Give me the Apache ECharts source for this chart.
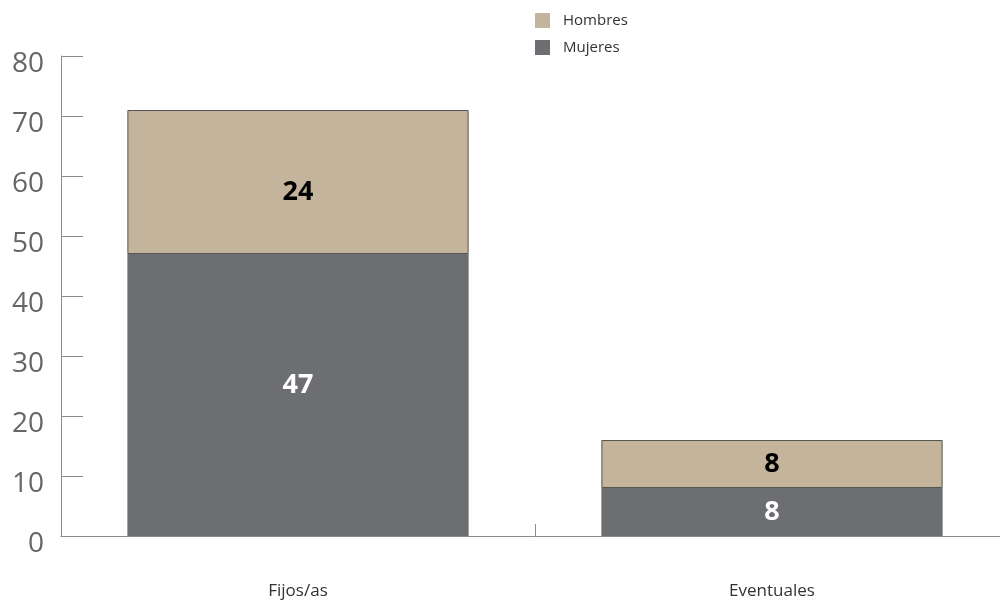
<!DOCTYPE html>
<html>
<head>
<meta charset="utf-8">
<script src="https://cdn.jsdelivr.net/npm/echarts@6/dist/echarts.min.js"></script>
<style>
  html, body { margin: 0; padding: 0; background: #fff; }
  #chart { width: 1000px; height: 607px; }
</style>
</head>
<body>
<div id="chart"></div>
<script>
// Plantilla por tipo de contrato
const categories = ['Fijos/as', 'Eventuales'];
const mujeres = [47, 8];
const hombres = [24, 8];
const yTicks = { min: 0, max: 80, interval: 10 };

// Desplazamiento vertical de las etiquetas dentro de cada barra
const mujeresLabelShift = [-10, 0];
const hombresLabelShift = [10, 0];

const toItems = (values, shifts) =>
  values.map((v, i) => ({ value: v, label: { offset: [0, shifts[i]] } }));

const chart = echarts.init(document.getElementById('chart'), null, { renderer: 'canvas' });

chart.setOption({
  animation: false,
  textStyle: { fontFamily: 'Open Sans' },
  legend: {
    orient: 'vertical',
    left: 530,
    top: 8,
    itemWidth: 15,
    itemHeight: 15,
    itemGap: 12,
    icon: 'rect',
    itemStyle: { borderWidth: 0 },
    data: ['Hombres', 'Mujeres'],
    textStyle: { fontSize: 15, color: '#333', padding: [0, 0, 0, 8] }
  },
  grid: {
    left: 61, width: 948, top: 56, bottom: 71,
    containLabel: false, outerBoundsMode: 'none'
  },
  xAxis: {
    type: 'category',
    data: categories,
    axisLine: { lineStyle: { color: '#8c8c8c', width: 1 } },
    axisTick: { show: true, interval: 0, inside: true, length: 12, lineStyle: { color: '#8c8c8c', width: 1 } },
    axisLabel: { margin: 47, fontSize: 17, color: '#333' }
  },
  yAxis: {
    type: 'value',
    min: yTicks.min,
    max: yTicks.max,
    interval: yTicks.interval,
    splitLine: { show: false },
    axisLine: { show: true, lineStyle: { color: '#8c8c8c', width: 1 } },
    axisTick: { show: true, inside: true, length: 22, lineStyle: { color: '#8c8c8c' } },
    axisLabel: {
      margin: 17, fontSize: 28, color: '#666',
      verticalAlign: 'top', lineHeight: 16
    }
  },
  series: [
    {
      name: 'Mujeres',
      type: 'bar',
      stack: 'total',
      data: toItems(mujeres, mujeresLabelShift),
      barCategoryGap: '28%',
      itemStyle: { color: '#6d6e72' },
      label: { show: true, position: 'inside', color: '#fff', fontSize: 27, fontWeight: 'bold' }
    },
    {
      name: 'Hombres',
      type: 'bar',
      stack: 'total',
      data: toItems(hombres, hombresLabelShift),
      barCategoryGap: '28%',
      itemStyle: { color: '#c4b49b', borderColor: '#555', borderWidth: 1 },
      label: { show: true, position: 'inside', color: '#000', fontSize: 27, fontWeight: 'bold' }
    }
  ]
});
</script>
</body>
</html>
